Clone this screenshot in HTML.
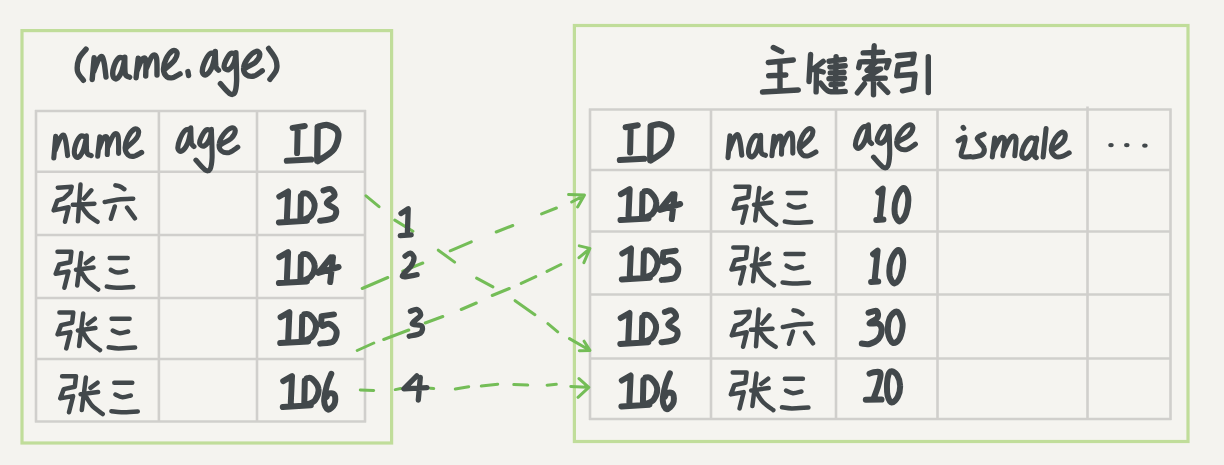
<!DOCTYPE html>
<html lang="zh">
<head>
<meta charset="utf-8">
<title>(name,age) index lookup back to primary key index</title>
<style>
html,body{margin:0;padding:0;background:#f4f3ef;}
body{width:1224px;height:465px;overflow:hidden;font-family:"Liberation Sans",sans-serif;}
svg{display:block;filter:blur(0.7px);}
</style>
</head>
<body>
<svg width="1224" height="465" viewBox="0 0 1224 465" role="img" aria-label="Secondary index (name,age) rows pointing via dashed arrows to primary key index rows">
<desc>(name,age) index: name age ID / 张六 ID3 / 张三 ID4 / 张三 ID5 / 张三 ID6. Lookups 1 2 3 4. 主键索引: ID name age ismale ... / ID4 张三 10 / ID5 张三 10 / ID3 张六 30 / ID6 张三 20</desc>
<rect width="1224" height="465" fill="#f4f3ef"/>
<rect x="22" y="30.6" width="369.6" height="412.4" fill="#f5f4f0" stroke="#c0dd9a" stroke-width="3.2"/>
<rect x="574.4" y="25.5" width="613.6" height="416" fill="#f5f4f0" stroke="#c0dd9a" stroke-width="3.2"/>
<path d="M35 111 H366 M35 171.8 H366 M35 235 H366 M35 298 H366 M35 359 H366 M35 421.5 H366 M36 110 V422.5 M158.9 110 V422.5 M257 110 V422.5 M365 110 V422.5" fill="none" stroke="#d0cfcc" stroke-width="2.6"/>
<path d="M589 109.5 H1171.5 M589 170 H1171.5 M589 231.5 H1171.5 M589 294.5 H1171.5 M589 358.5 H1171.5 M589 419 H1171.5 M590 108.5 V420 M711 108.5 V420 M836 108.5 V420 M937.5 108.5 V420 M1087.5 108.5 V420 M1170.5 108.5 V420" fill="none" stroke="#d0cfcc" stroke-width="2.6"/>
<path d="M1087.5 106.5 V110" stroke="#d0cfcc" stroke-width="2.6"/>
<path d="M366.0 195.8 L379.0 206.7 M394.8 220.1 L412.9 231.3 M438.3 250.2 L454.6 262.1 M476.6 278.1 L492.9 286.9 M515.1 300.7 L534.9 314.7 M547.9 323.7 L557.7 331.8 M569.5 338.6 L588.8 349.8 M584.1 341.2 L589.9 350.4 L579.3 350.8 M362.2 288.5 L387.8 277.5 M402.7 271.1 L422.8 263.0 M450.2 250.8 L471.3 241.8 M496.2 232.0 L512.8 225.5 M541.6 213.9 L556.4 208.0 M571.7 202.0 L582.8 196.1 M568.6 194.6 L584.5 195.0 L577.6 206.9 M357.2 350.5 L373.8 343.0 M383.7 339.5 L408.8 330.0 M425.2 323.0 L442.8 316.5 M461.2 309.5 L476.3 303.0 M492.2 295.5 L509.3 288.5 M521.2 283.4 L535.8 276.6 M547.0 271.4 L560.8 264.5 M579.0 257.7 L588.2 250.0 M579.3 245.9 L589.9 248.4 L583.9 262.7 M360.3 390.0 L373.7 390.5 M395.3 389.6 L400.7 388.5 M430.3 388.2 L433.7 388.6 M455.3 389.1 L468.7 386.7 M481.3 386.1 L497.7 384.2 M513.8 384.6 L527.7 385.1 M547.1 385.2 L556.3 384.3 M570.8 386.4 L587.5 387.3 M579.0 378.6 L588.8 387.4 L578.0 397.3" fill="none" stroke="#74bd57" stroke-width="3.0" stroke-linecap="round" stroke-linejoin="round"/>
<path d="M86.1 49.1 C85.0 50.7 80.6 54.6 79.1 58.3 C77.7 62.0 76.8 67.5 77.5 71.2 C78.2 74.9 82.5 78.8 83.4 80.3 M94.1 57.8 L92.2 79.5 M93.6 71.7 C94.4 69.8 97.0 62.4 98.4 59.9 C99.9 57.4 101.2 56.0 102.2 56.7 C103.2 57.4 103.7 60.8 104.4 64.2 C105.0 67.6 105.7 75.0 106.0 77.1 M123.7 58.5 C122.9 58.4 120.5 56.5 118.9 57.8 C117.3 59.1 115.0 63.3 114.0 66.4 C113.0 69.4 112.5 74.0 113.0 76.0 C113.4 78.1 115.3 79.4 116.7 78.7 C118.1 78.0 120.2 75.0 121.6 71.7 C122.9 68.5 124.2 61.2 124.8 59.1 M124.8 57.2 C124.9 60.0 124.5 70.6 125.3 73.9 C126.1 77.2 128.9 76.6 129.6 77.1 M138.2 58.3 L136.1 77.7 M137.1 70.7 C137.9 68.8 140.5 61.2 142.0 59.4 C143.4 57.6 145.1 57.1 145.7 59.9 C146.4 62.7 145.7 73.4 145.7 76.0 M146.3 68.5 C147.3 66.5 150.5 57.9 152.2 56.2 C153.9 54.4 155.7 54.6 156.5 57.8 C157.3 60.9 156.9 72.1 157.0 75.0 M165.1 69.1 C166.7 67.5 172.8 62.7 174.7 59.9 C176.7 57.1 177.3 53.9 176.9 52.4 C176.5 50.9 174.4 49.7 172.6 50.8 C170.8 51.9 167.7 55.7 166.2 58.8 C164.6 62.0 163.4 66.6 163.5 69.6 C163.6 72.5 165.2 75.2 166.7 76.6 C168.2 77.9 170.4 78.1 172.6 77.7 C174.8 77.2 178.9 74.5 180.1 73.9 M187.9 71.6 L188.6 75.5 M214.6 53.0 C213.8 53.2 211.2 52.4 209.5 54.1 C207.8 55.7 205.5 60.1 204.3 63.1 C203.1 66.1 202.1 70.2 202.4 72.1 C202.7 74.1 204.6 75.6 206.3 74.7 C207.9 73.8 210.6 70.4 212.1 67.0 C213.6 63.6 214.7 56.4 215.3 54.3 M215.3 51.5 C215.4 54.0 215.4 63.2 215.9 66.3 C216.5 69.4 218.1 69.5 218.5 70.2 M235.3 54.3 C234.5 54.2 232.4 52.3 230.8 53.4 C229.1 54.6 226.7 58.8 225.6 61.2 C224.5 63.5 223.8 66.2 224.3 67.6 C224.8 69.0 227.2 70.3 228.8 69.5 C230.4 68.8 232.8 65.5 234.0 63.1 C235.2 60.7 235.6 56.3 235.9 55.0 M235.9 52.8 C236.0 57.5 236.8 74.5 236.6 81.1 C236.3 87.8 235.8 90.7 234.6 92.8 C233.4 94.8 231.8 94.9 229.5 93.4 C227.1 91.9 221.9 85.3 220.4 83.7 M246.2 67.6 C247.8 66.6 253.6 64.1 255.9 61.8 C258.2 59.6 259.8 55.8 259.8 54.1 C259.8 52.4 257.8 50.8 255.9 51.5 C254.0 52.1 250.2 55.3 248.2 57.9 C246.1 60.6 244.0 64.8 243.7 67.6 C243.3 70.4 244.5 73.3 246.2 74.7 C247.9 76.1 251.3 76.6 254.0 76.0 C256.7 75.3 261.0 71.7 262.3 70.8 M268.6 48.4 C269.8 50.2 274.4 55.8 275.7 59.4 C277.0 63.0 277.4 66.4 276.4 69.7 C275.4 73.0 271.0 77.8 269.9 79.4 M773.3 47.5 L781.7 51.7 M768.3 62.5 L793.3 60.0 M768.7 75.8 L785.8 75.0 M780.0 62.5 L780.0 90.3 M762.5 92.0 L798.3 90.0 M810.6 54.5 L809.0 81.5 M823.2 61.3 L812.9 69.4 L823.2 72.0 M816.5 70.3 L816.1 91.9 M820.6 83.2 C822.0 84.6 824.9 90.0 829.0 91.4 C833.1 92.7 842.5 91.4 845.2 91.4 M836.1 56.8 L835.5 89.7 M829.0 61.3 L844.5 59.4 M829.9 67.1 L845.2 65.8 M830.3 72.9 L843.9 72.3 M829.0 78.7 L844.5 78.1 M831.0 84.5 L842.6 83.9 M874.2 45.8 L873.5 57.4 M863.2 52.9 L882.6 52.3 M858.7 67.7 L860.0 61.9 L889.0 60.6 L886.5 67.7 M876.1 61.9 L867.1 70.3 L880.6 69.0 L864.5 78.7 L885.2 78.1 M873.5 77.4 L873.5 94.8 M864.5 83.9 L857.4 92.9 M879.4 83.9 L887.7 92.3 M897.5 55.8 L914.2 54.2 L912.5 63.3 L898.3 65.0 L896.7 75.8 L915.0 74.2 L913.3 88.3 L902.5 90.8 M928.3 56.7 L928.3 92.5" fill="none" stroke="#42484b" stroke-width="5.4" stroke-linecap="round" stroke-linejoin="round"/>
<path d="M55.7 136.3 L53.8 158.0 M55.2 150.2 C56.0 148.3 58.6 140.9 60.0 138.4 C61.5 135.9 62.8 134.5 63.8 135.2 C64.8 135.9 65.3 139.3 66.0 142.7 C66.6 146.1 67.3 153.5 67.6 155.6 M85.3 137.0 C84.5 136.9 82.1 135.0 80.5 136.3 C78.9 137.6 76.6 141.8 75.6 144.9 C74.6 147.9 74.1 152.5 74.6 154.5 C75.0 156.6 76.9 157.9 78.3 157.2 C79.7 156.5 81.8 153.5 83.2 150.2 C84.5 147.0 85.8 139.7 86.4 137.6 M86.4 135.7 C86.5 138.5 86.1 149.1 86.9 152.4 C87.7 155.7 90.5 155.1 91.2 155.6 M99.8 136.8 L97.7 156.2 M98.7 149.2 C99.5 147.3 102.1 139.7 103.6 137.9 C105.0 136.1 106.7 135.6 107.3 138.4 C108.0 141.2 107.3 151.9 107.3 154.5 M107.9 147.0 C108.9 145.0 112.1 136.4 113.8 134.7 C115.5 132.9 117.3 133.1 118.1 136.3 C118.9 139.4 118.5 150.6 118.6 153.5 M126.7 147.6 C128.3 146.0 134.4 141.2 136.3 138.4 C138.3 135.6 138.9 132.4 138.5 130.9 C138.1 129.4 136.0 128.2 134.2 129.3 C132.4 130.4 129.3 134.2 127.8 137.3 C126.2 140.5 125.0 145.1 125.1 148.1 C125.2 151.0 126.8 153.7 128.3 155.1 C129.8 156.4 132.0 156.6 134.2 156.2 C136.4 155.7 140.5 153.0 141.7 152.4 M190.1 129.4 C189.3 129.6 186.7 128.8 185.0 130.5 C183.3 132.1 181.0 136.5 179.8 139.5 C178.6 142.5 177.6 146.6 177.9 148.5 C178.2 150.5 180.1 152.0 181.8 151.1 C183.4 150.2 186.1 146.8 187.6 143.4 C189.1 140.0 190.2 132.8 190.8 130.7 M190.8 127.9 C190.9 130.4 190.9 139.6 191.4 142.7 C192.0 145.8 193.6 145.9 194.0 146.6 M210.8 130.7 C210.0 130.6 207.9 128.7 206.3 129.8 C204.6 131.0 202.2 135.2 201.1 137.6 C200.0 139.9 199.3 142.6 199.8 144.0 C200.3 145.4 202.7 146.7 204.3 145.9 C205.9 145.2 208.3 141.9 209.5 139.5 C210.7 137.1 211.1 132.7 211.4 131.4 M211.4 129.2 C211.5 133.9 212.3 150.9 212.1 157.5 C211.8 164.2 211.3 167.1 210.1 169.2 C208.9 171.2 207.3 171.3 205.0 169.8 C202.6 168.3 197.4 161.7 195.9 160.1 M221.7 144.0 C223.3 143.0 229.1 140.5 231.4 138.2 C233.7 136.0 235.3 132.2 235.3 130.5 C235.3 128.8 233.3 127.2 231.4 127.9 C229.5 128.5 225.7 131.7 223.7 134.3 C221.6 137.0 219.5 141.2 219.2 144.0 C218.8 146.8 220.0 149.7 221.7 151.1 C223.4 152.5 226.8 153.0 229.5 152.4 C232.2 151.7 236.5 148.1 237.8 147.2 M729.9 135.9 L728.0 157.6 M729.4 149.8 C730.2 147.9 732.8 140.5 734.2 138.0 C735.7 135.5 737.0 134.1 738.0 134.8 C739.0 135.5 739.5 138.9 740.2 142.3 C740.8 145.7 741.5 153.1 741.8 155.2 M759.5 136.6 C758.7 136.5 756.3 134.6 754.7 135.9 C753.1 137.2 750.8 141.4 749.8 144.5 C748.8 147.5 748.3 152.1 748.8 154.1 C749.2 156.2 751.1 157.5 752.5 156.8 C753.9 156.1 756.0 153.1 757.4 149.8 C758.7 146.6 760.0 139.3 760.6 137.2 M760.6 135.3 C760.7 138.1 760.3 148.7 761.1 152.0 C761.9 155.3 764.7 154.7 765.4 155.2 M774.0 136.4 L771.9 155.8 M772.9 148.8 C773.7 146.9 776.3 139.3 777.8 137.5 C779.2 135.7 780.9 135.2 781.5 138.0 C782.2 140.8 781.5 151.5 781.5 154.1 M782.1 146.6 C783.1 144.6 786.3 136.0 788.0 134.3 C789.7 132.5 791.5 132.7 792.3 135.9 C793.1 139.0 792.7 150.2 792.8 153.1 M800.9 147.2 C802.5 145.6 808.6 140.8 810.5 138.0 C812.5 135.2 813.1 132.0 812.7 130.5 C812.3 129.0 810.2 127.8 808.4 128.9 C806.6 130.0 803.5 133.8 802.0 136.9 C800.4 140.1 799.2 144.7 799.3 147.7 C799.4 150.6 801.0 153.3 802.5 154.7 C804.0 156.0 806.2 156.2 808.4 155.8 C810.6 155.3 814.7 152.6 815.9 152.0 M867.7 126.4 C866.9 126.6 864.3 125.8 862.6 127.5 C860.9 129.1 858.6 133.5 857.4 136.5 C856.2 139.5 855.2 143.6 855.5 145.5 C855.8 147.5 857.7 149.0 859.4 148.1 C861.0 147.2 863.7 143.8 865.2 140.4 C866.7 137.0 867.8 129.8 868.4 127.7 M868.4 124.9 C868.5 127.4 868.5 136.6 869.0 139.7 C869.6 142.8 871.2 142.9 871.6 143.6 M888.4 127.7 C887.6 127.6 885.5 125.7 883.9 126.8 C882.2 128.0 879.8 132.2 878.7 134.6 C877.6 136.9 876.9 139.6 877.4 141.0 C877.9 142.4 880.3 143.7 881.9 142.9 C883.5 142.2 885.9 138.9 887.1 136.5 C888.3 134.1 888.7 129.7 889.0 128.4 M889.0 126.2 C889.1 130.9 889.9 147.9 889.7 154.5 C889.4 161.2 888.9 164.1 887.7 166.2 C886.5 168.2 884.9 168.3 882.6 166.8 C880.2 165.3 875.0 158.7 873.5 157.1 M899.3 141.0 C900.9 140.0 906.7 137.5 909.0 135.2 C911.3 133.0 912.9 129.2 912.9 127.5 C912.9 125.8 910.9 124.2 909.0 124.9 C907.1 125.5 903.3 128.7 901.3 131.3 C899.2 134.0 897.1 138.2 896.8 141.0 C896.4 143.8 897.6 146.7 899.3 148.1 C901.0 149.5 904.4 150.0 907.1 149.4 C909.8 148.7 914.1 145.1 915.4 144.2 M963.1 127.4 L963.7 128.2 M958.2 140.8 C959.3 140.2 963.9 136.6 964.9 137.2 C965.8 137.9 964.5 141.5 963.9 144.6 C963.3 147.7 960.2 153.8 961.3 155.8 C962.5 157.8 969.2 156.5 970.8 156.6 M984.0 134.2 C982.9 134.9 977.2 136.3 977.2 138.6 C977.2 141.0 983.3 145.4 984.0 148.1 C984.8 150.8 983.6 153.5 981.7 155.0 C979.7 156.4 974.0 156.6 972.4 157.0 M994.7 138.1 L992.3 157.0 M993.5 150.5 C994.7 148.4 998.7 139.7 1000.6 138.1 C1002.4 136.4 1004.3 137.5 1004.7 140.4 C1005.1 143.4 1003.2 153.2 1002.9 155.8 M1004.1 150.5 C1005.3 148.3 1009.2 139.4 1011.2 137.5 C1013.2 135.5 1015.4 135.6 1015.9 138.6 C1016.5 141.7 1015.0 152.9 1014.8 155.8 M1036.0 139.5 C1035.1 139.2 1032.2 136.8 1030.1 138.1 C1028.1 139.3 1025.0 144.0 1023.6 146.9 C1022.3 149.9 1021.4 153.9 1021.9 155.8 C1022.4 157.7 1024.7 159.0 1026.6 158.2 C1028.5 157.3 1031.4 153.5 1033.1 150.5 C1034.8 147.5 1036.0 141.8 1036.6 140.1 M1036.6 138.1 C1036.2 140.7 1034.3 150.8 1034.3 154.0 C1034.2 157.3 1036.0 157.0 1036.3 157.6 M1046.1 128.6 L1043.1 157.0 M1053.8 149.3 C1055.4 148.0 1061.4 144.2 1063.2 141.6 C1065.1 139.0 1065.4 135.4 1065.0 133.9 C1064.6 132.4 1062.8 131.6 1060.9 132.7 C1059.0 133.9 1055.4 138.1 1053.8 141.0 C1052.2 144.0 1051.1 147.9 1051.4 150.5 C1051.7 153.0 1053.8 155.4 1055.6 156.4 C1057.3 157.4 1059.8 157.0 1062.1 156.4 C1064.3 155.8 1068.0 153.4 1069.2 152.8" fill="none" stroke="#42484b" stroke-width="5.1" stroke-linecap="round" stroke-linejoin="round"/>
<path d="M57.8 187.7 L71.7 186.7 L70.2 192.4 L63.5 198.6 L57.3 200.6 L53.7 210.4 L68.6 207.3 L65.0 221.8 M80.5 184.6 L77.9 221.3 M91.3 190.3 L84.1 198.6 M72.8 204.8 L94.4 203.7 M81.0 205.8 C82.2 207.3 85.5 212.4 88.2 215.1 C91.0 217.8 96.0 220.7 97.5 221.8 M115.4 185.3 C116.1 185.5 118.3 185.7 119.8 186.4 C121.3 187.0 123.6 188.7 124.3 189.2 M104.7 202.0 C107.1 201.6 114.0 200.0 118.7 199.5 C123.5 198.9 130.8 198.8 133.2 198.7 M114.8 206.5 L110.9 218.8 M127.1 207.6 L134.9 218.3 M57.5 251.7 L71.4 251.7 L70.2 262.2 L59.2 264.5 L55.7 273.8 L68.5 271.5 L64.4 287.7 M81.3 252.9 L77.2 285.4 M92.9 258.1 L85.9 263.3 M76.0 269.7 L93.5 267.4 M80.7 270.9 C81.8 272.6 84.7 278.2 87.7 281.3 C90.6 284.4 96.4 288.1 98.1 289.5 M109.7 258.1 L127.7 258.1 M110.9 269.9 C112.0 270.4 115.3 272.5 117.8 272.6 C120.4 272.8 124.8 271.2 126.2 270.9 M106.8 286.6 C108.5 286.7 112.3 287.7 116.7 287.7 C121.1 287.8 130.4 287.0 133.2 286.9 M59.4 312.4 L73.3 312.4 L72.1 322.8 L61.1 325.1 L57.6 334.4 L70.4 332.1 L66.3 348.4 M83.2 313.5 L79.1 346.0 M94.8 318.7 L87.8 324.0 M77.9 330.4 L95.4 328.0 M82.6 331.5 C83.7 333.3 86.6 338.9 89.6 342.0 C92.5 345.1 98.3 348.8 100.0 350.1 M111.6 318.7 L129.6 318.7 M112.8 330.6 C113.9 331.0 117.2 333.1 119.7 333.3 C122.3 333.4 126.7 331.8 128.1 331.5 M108.7 347.2 C110.4 347.4 114.2 348.3 118.6 348.4 C123.0 348.4 132.3 347.7 135.1 347.6 M62.1 376.3 L76.0 376.3 L74.8 386.8 L63.8 389.1 L60.3 398.4 L73.1 396.1 L69.0 412.3 M85.9 377.5 L81.8 410.0 M97.5 382.7 L90.5 387.9 M80.6 394.3 L98.1 392.0 M85.3 395.5 C86.4 397.2 89.3 402.8 92.3 405.9 C95.2 409.0 101.0 412.7 102.7 414.1 M114.3 382.7 L132.3 382.7 M115.5 394.5 C116.6 395.0 119.9 397.1 122.4 397.2 C125.0 397.4 129.4 395.8 130.8 395.5 M111.4 411.2 C113.1 411.3 116.9 412.3 121.3 412.3 C125.7 412.4 135.0 411.6 137.8 411.5 M735.5 186.7 L749.4 186.7 L748.2 197.2 L737.2 199.5 L733.7 208.8 L746.5 206.5 L742.4 222.7 M759.3 187.9 L755.2 220.4 M770.9 193.1 L763.9 198.3 M754.0 204.7 L771.5 202.4 M758.7 205.9 C759.8 207.6 762.7 213.2 765.7 216.3 C768.6 219.4 774.4 223.1 776.1 224.5 M787.7 193.1 L805.7 193.1 M788.9 204.9 C790.0 205.4 793.3 207.5 795.8 207.6 C798.4 207.8 802.8 206.2 804.2 205.9 M784.8 221.6 C786.5 221.7 790.3 222.7 794.7 222.7 C799.1 222.8 808.4 222.0 811.2 221.9 M733.3 247.5 L747.2 247.5 L746.0 258.0 L735.0 260.3 L731.5 269.6 L744.3 267.3 L740.2 283.5 M757.1 248.7 L753.0 281.2 M768.7 253.9 L761.7 259.1 M751.8 265.5 L769.3 263.2 M756.5 266.7 C757.6 268.4 760.5 274.0 763.5 277.1 C766.4 280.2 772.2 283.9 773.9 285.3 M785.5 253.9 L803.5 253.9 M786.7 265.7 C787.8 266.2 791.1 268.3 793.6 268.4 C796.2 268.6 800.6 267.0 802.0 266.7 M782.6 282.4 C784.3 282.5 788.1 283.5 792.5 283.5 C796.9 283.6 806.2 282.8 809.0 282.7 M735.9 312.7 L749.8 311.7 L748.3 317.4 L741.6 323.6 L735.4 325.6 L731.8 335.4 L746.7 332.3 L743.1 346.8 M758.6 309.6 L756.0 346.3 M769.4 315.3 L762.2 323.6 M750.9 329.8 L772.5 328.7 M759.1 330.8 C760.3 332.3 763.6 337.4 766.3 340.1 C769.1 342.8 774.1 345.7 775.6 346.8 M793.5 310.3 C794.2 310.5 796.4 310.7 797.9 311.4 C799.4 312.0 801.7 313.7 802.4 314.2 M782.8 327.0 C785.2 326.6 792.1 325.0 796.8 324.5 C801.6 323.9 808.9 323.8 811.3 323.7 M792.9 331.5 L789.0 343.8 M805.2 332.6 L813.0 343.3 M732.7 372.4 L746.6 372.4 L745.4 382.8 L734.4 385.1 L730.9 394.4 L743.7 392.1 L739.6 408.4 M756.5 373.5 L752.4 406.0 M768.1 378.7 L761.1 384.0 M751.2 390.4 L768.7 388.0 M755.9 391.5 C757.0 393.3 759.9 398.9 762.9 402.0 C765.8 405.1 771.6 408.8 773.3 410.1 M784.9 378.7 L802.9 378.7 M786.1 390.6 C787.2 391.0 790.5 393.1 793.0 393.3 C795.6 393.4 800.0 391.8 801.4 391.5 M782.0 407.2 C783.7 407.4 787.5 408.3 791.9 408.4 C796.3 408.4 805.6 407.7 808.4 407.6" fill="none" stroke="#42484b" stroke-width="4.5" stroke-linecap="round" stroke-linejoin="round"/>
<path d="M401.0 213.5 L408.2 208.7 L407.4 233.0 M400.3 235.7 L411.2 234.9 M405.0 256.2 C405.8 255.7 408.7 252.9 410.2 253.2 C411.7 253.5 413.9 255.9 414.0 258.0 C414.1 260.1 413.0 262.7 411.1 265.8 C409.2 268.9 401.4 274.9 402.4 276.4 C403.4 277.9 414.7 275.0 417.1 274.7 M410.4 311.3 C411.5 311.0 415.3 308.8 417.0 309.5 C418.7 310.2 421.3 313.0 420.5 315.4 C419.7 317.8 412.0 321.9 412.2 323.7 C412.4 325.5 420.3 324.4 421.7 326.0 C423.1 327.6 422.6 331.4 420.5 333.1 C418.4 334.8 411.1 335.7 409.2 336.2 M416.8 375.9 L403.9 388.8 L427.0 387.7 M420.3 377.5 L418.3 400.0" fill="none" stroke="#42484b" stroke-width="5.3" stroke-linecap="round" stroke-linejoin="round"/>
<path d="M292.6 127.9 L304.8 126.0 M297.7 127.9 L297.1 153.1 M286.8 160.8 L311.3 159.5 M279.3 196.5 L288.1 191.5 L286.9 218.1 M278.9 222.4 L306.9 220.7 M300.9 195.9 L300.4 218.8 M302.8 193.6 C303.6 193.7 306.1 192.4 308.1 194.1 C310.0 195.8 314.0 200.3 314.5 203.8 C315.1 207.4 313.3 212.7 311.3 215.4 C309.3 218.2 304.0 219.5 302.5 220.3 M323.4 190.5 C324.6 190.3 328.8 188.2 330.6 189.0 C332.5 189.8 335.2 193.1 334.5 195.4 C333.9 197.8 326.6 200.8 326.8 203.2 C327.0 205.5 334.7 207.1 335.8 209.6 C336.9 212.1 335.8 216.1 333.2 218.0 C330.6 219.9 322.3 220.4 320.1 220.8 M279.3 257.2 L288.1 252.2 L286.9 278.8 M278.9 283.1 L306.9 281.4 M300.9 256.6 L300.4 279.5 M302.8 254.3 C303.6 254.4 306.1 253.1 308.1 254.8 C310.0 256.5 314.0 260.9 314.5 264.5 C315.1 268.0 313.3 273.3 311.3 276.1 C309.3 278.9 304.0 280.2 302.5 281.0 M330.8 257.5 L318.4 272.9 L338.6 267.0 M333.0 257.3 L330.2 282.1 M280.6 317.2 L289.4 312.2 L288.2 338.8 M280.2 343.1 L308.2 341.4 M302.2 316.6 L301.7 339.5 M304.1 314.3 C304.9 314.4 307.4 313.1 309.4 314.8 C311.3 316.5 315.3 320.9 315.8 324.5 C316.4 328.0 314.6 333.3 312.6 336.1 C310.6 338.9 305.3 340.2 303.8 341.0 M334.0 314.4 L321.6 316.1 L321.1 324.7 M322.7 325.9 C323.8 325.6 327.1 323.0 329.4 323.9 C331.6 324.7 335.8 328.1 336.5 331.0 C337.1 333.9 335.9 339.2 333.2 341.3 C330.5 343.4 322.3 343.2 320.2 343.6 M283.2 381.1 L292.0 376.1 L290.8 402.7 M282.8 407.0 L310.8 405.3 M304.8 380.5 L304.3 403.4 M306.7 378.2 C307.5 378.3 310.0 377.0 312.0 378.7 C313.9 380.4 317.9 384.8 318.4 388.4 C319.0 391.9 317.2 397.2 315.2 400.0 C313.2 402.8 307.9 404.1 306.4 404.9 M331.3 373.9 C330.5 375.9 328.0 381.2 326.8 385.8 C325.6 390.4 324.0 397.3 324.2 401.3 C324.4 405.3 326.3 409.2 328.1 409.7 C329.8 410.1 333.4 406.3 334.5 403.9 C335.6 401.4 335.5 396.6 334.5 394.8 C333.5 393.1 330.1 393.2 328.7 393.5 C327.4 393.9 326.8 396.6 326.4 397.2 M625.6 127.2 L637.8 125.3 M630.7 127.2 L630.1 152.4 M619.8 160.1 L644.3 158.8 M620.9 194.2 L629.7 189.2 L628.5 215.8 M620.5 220.1 L648.5 218.4 M642.5 193.6 L642.0 216.5 M644.4 191.3 C645.2 191.4 647.7 190.1 649.7 191.8 C651.6 193.5 655.6 197.9 656.1 201.5 C656.7 205.0 654.9 210.3 652.9 213.1 C650.9 215.9 645.6 217.2 644.1 218.0 M672.4 194.5 L660.0 209.9 L680.2 204.0 M674.6 194.3 L671.8 219.1 M622.3 253.5 L631.0 248.5 L629.8 275.1 M621.8 279.4 L649.9 277.7 M643.9 252.9 L643.3 275.8 M645.7 250.6 C646.6 250.7 649.1 249.4 651.0 251.1 C653.0 252.8 656.9 257.2 657.5 260.8 C658.0 264.3 656.2 269.6 654.2 272.4 C652.2 275.2 646.9 276.5 645.5 277.3 M675.7 250.7 L663.3 252.4 L662.7 261.0 M664.3 262.2 C665.4 261.9 668.7 259.3 671.0 260.2 C673.3 261.0 677.5 264.4 678.1 267.3 C678.7 270.2 677.6 275.5 674.9 277.6 C672.2 279.7 664.0 279.5 661.8 279.9 M620.7 318.0 L629.5 313.0 L628.3 339.6 M620.3 343.9 L648.3 342.2 M642.3 317.4 L641.8 340.3 M644.2 315.1 C645.0 315.2 647.5 313.9 649.5 315.6 C651.4 317.3 655.4 321.7 655.9 325.3 C656.5 328.8 654.7 334.1 652.7 336.9 C650.7 339.7 645.4 341.0 643.9 341.8 M664.8 312.0 C666.0 311.8 670.2 309.6 672.0 310.5 C673.9 311.3 676.6 314.5 675.9 316.9 C675.3 319.3 668.0 322.3 668.2 324.6 C668.4 327.0 676.1 328.6 677.2 331.1 C678.3 333.6 677.2 337.6 674.6 339.5 C672.0 341.4 663.7 341.9 661.5 342.3 M621.8 380.5 L630.6 375.5 L629.4 402.1 M621.4 406.4 L649.4 404.7 M643.4 379.9 L642.9 402.8 M645.3 377.6 C646.1 377.7 648.6 376.4 650.6 378.1 C652.5 379.8 656.5 384.2 657.0 387.8 C657.6 391.3 655.8 396.6 653.8 399.4 C651.8 402.2 646.5 403.5 645.0 404.3 M669.9 373.3 C669.1 375.3 666.6 380.6 665.4 385.2 C664.2 389.8 662.6 396.7 662.8 400.7 C663.0 404.7 664.9 408.6 666.7 409.1 C668.4 409.5 672.0 405.7 673.1 403.3 C674.2 400.8 674.1 396.0 673.1 394.2 C672.1 392.5 668.7 392.6 667.3 392.9 C666.0 393.3 665.4 396.0 665.0 396.6 M878.3 192.2 L882.8 188.6 L880.0 216.4 M876.3 219.9 L883.4 219.5 M903.5 188.1 C905.5 187.9 907.8 192.7 908.2 196.9 C908.6 201.2 907.5 209.4 906.1 213.5 C904.7 217.6 901.8 221.5 899.9 221.5 C898.1 221.5 895.4 217.4 894.8 213.5 C894.3 209.6 894.9 202.3 896.4 198.1 C897.8 193.9 901.5 188.2 903.5 188.1 M873.1 254.2 L877.6 250.6 L874.8 278.4 M871.1 281.9 L878.2 281.5 M898.3 250.1 C900.3 249.9 902.6 254.7 903.0 258.9 C903.4 263.2 902.3 271.4 900.9 275.5 C899.5 279.6 896.6 283.5 894.7 283.5 C892.9 283.5 890.2 279.4 889.6 275.5 C889.1 271.6 889.7 264.3 891.2 260.1 C892.6 255.9 896.3 250.2 898.3 250.1 M868.5 312.8 C869.9 312.5 875.1 310.1 876.6 310.9 C878.1 311.7 878.6 315.6 877.4 317.7 C876.3 319.8 869.4 322.4 869.5 323.4 C869.7 324.4 876.3 322.6 878.4 323.6 C880.4 324.7 881.7 327.0 881.7 329.6 C881.7 332.1 880.4 336.6 878.4 339.0 C876.3 341.4 872.3 343.2 869.5 344.0 C866.8 344.8 863.1 343.7 861.8 343.6 M897.3 311.8 C899.4 312.8 902.2 319.2 902.6 323.6 C903.0 328.1 901.3 335.2 899.7 338.4 C898.0 341.6 894.7 343.7 892.8 342.8 C890.9 341.9 888.6 337.3 888.1 333.1 C887.6 328.9 888.3 321.3 889.8 317.7 C891.4 314.2 895.2 310.8 897.3 311.8 M869.5 373.6 C870.2 373.4 872.0 372.6 873.6 372.3 C875.3 372.0 878.4 371.5 879.6 372.1 C880.7 372.7 880.8 373.4 880.5 376.0 C880.2 378.5 878.8 383.7 877.8 387.2 C876.7 390.7 874.9 395.1 874.3 396.7 M865.8 399.8 L881.5 399.6 M891.6 371.2 C893.0 371.4 895.6 372.8 897.1 375.1 C898.5 377.5 900.0 381.8 900.1 385.4 C900.3 389.0 899.2 393.8 897.8 396.7 C896.4 399.5 893.3 402.8 891.6 402.6 C889.9 402.4 888.4 398.6 887.6 395.5 C886.8 392.3 886.9 387.2 887.0 383.6 C887.2 380.1 887.8 376.5 888.5 374.4 C889.3 372.4 890.2 371.1 891.6 371.2" fill="none" stroke="#42484b" stroke-width="6.0" stroke-linecap="round" stroke-linejoin="round"/>
<path d="M317.7 127.3 L317.2 160.8 M317.7 126.9 C319.4 126.6 324.4 124.1 327.8 125.1 C331.2 126.0 337.1 128.4 338.1 132.4 C339.1 136.4 337.3 144.4 333.9 149.2 C330.5 154.0 320.4 159.2 317.7 161.2 M650.7 126.6 L650.2 160.1 M650.7 126.2 C652.4 125.9 657.4 123.4 660.8 124.4 C664.2 125.3 670.1 127.7 671.1 131.7 C672.1 135.7 670.3 143.7 666.9 148.5 C663.5 153.3 653.4 158.5 650.7 160.5" fill="none" stroke="#42484b" stroke-width="6.3" stroke-linecap="round" stroke-linejoin="round"/>
<ellipse cx="1111" cy="145.1" rx="2.7" ry="2.2" fill="#42484b"/><ellipse cx="1126.8" cy="145.1" rx="2.7" ry="2.2" fill="#42484b"/><ellipse cx="1144.9" cy="145.6" rx="2.7" ry="2.2" fill="#42484b"/>
</svg>
</body>
</html>
